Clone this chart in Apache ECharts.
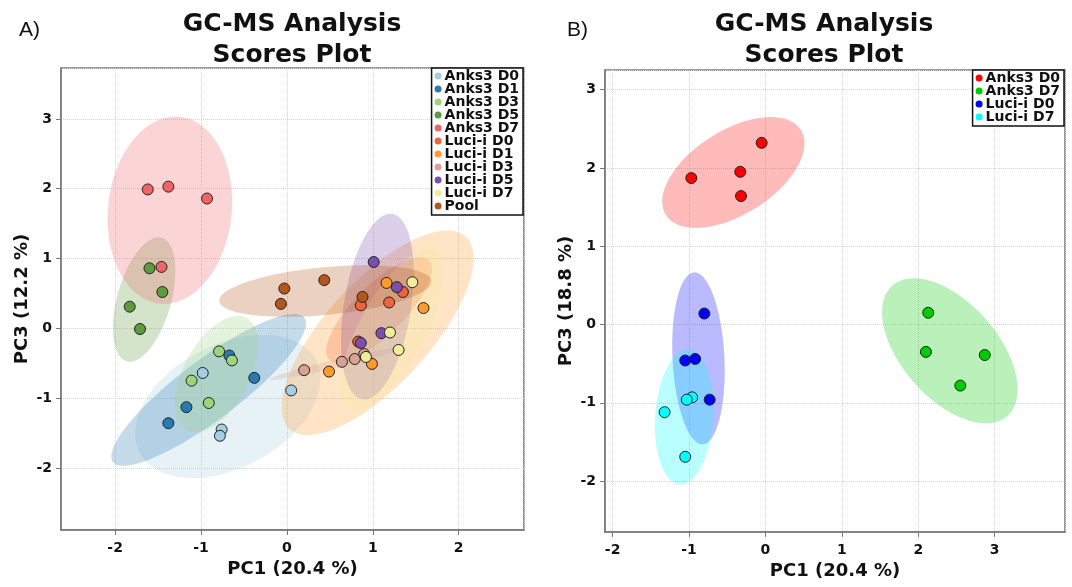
<!DOCTYPE html>
<html>
<head>
<meta charset="utf-8">
<script src="https://cdn.jsdelivr.net/npm/echarts@6/dist/echarts.min.js"></script>
<style>
  html, body { margin: 0; padding: 0; background: #fff; }
  #chart { width: 1072px; height: 587px; }
</style>
</head>
<body>
<div id="chart"></div>
<script>
// panel A groups
const groupsA = ['Anks3 D0', 'Anks3 D1', 'Anks3 D3', 'Anks3 D5', 'Anks3 D7',
  'Luci-i D0', 'Luci-i D1', 'Luci-i D3', 'Luci-i D5', 'Luci-i D7', 'Pool'];
const colorsA = ['#A6CEE3', '#2A7AB2', '#9AD57C', '#5E9B3C', '#F06468',
  '#F0643C', '#FF9B2B', '#D9A195', '#7A4FAE', '#EFEC9B', '#B5561D'];
const pc1A = [
  [-0.98, -0.76, -0.78, 0.05],
  [-0.67, -0.38, -1.17, -1.38],
  [-0.79, -0.64, -1.11, -0.91],
  [-1.60, -1.45, -1.83, -1.71],
  [-1.62, -1.38, -0.93, -1.46],
  [1.35, 0.86, 1.19, 0.83],
  [1.16, 1.59, 0.99, 0.49],
  [0.20, 0.64, 0.79, 0.90],
  [1.01, 1.28, 1.10, 0.86],
  [1.46, 1.20, 1.30, 0.92],
  [-0.03, -0.07, 0.435, 0.88]
];
const pc3A = [
  [-0.64, -1.45, -1.54, -0.89],
  [-0.39, -0.71, -1.13, -1.36],
  [-0.33, -0.46, -0.75, -1.07],
  [0.86, 0.52, 0.31, -0.01],
  [1.99, 2.03, 1.86, 0.88],
  [0.52, 0.33, 0.37, -0.19],
  [0.65, 0.29, -0.51, -0.62],
  [-0.60, -0.48, -0.44, -0.37],
  [0.95, 0.59, -0.07, -0.21],
  [0.66, -0.06, -0.31, -0.41],
  [0.57, 0.35, 0.69, 0.45]
];
// confidence ellipses: centre x, centre y, semi-axis u (x,y), semi-axis v (x,y)
const ellipsesA = [
  [-0.690, -1.118, 1.024, 0.668, 0.338, -0.779],
  [-0.911, -0.883, 1.114, 1.033, 0.210, -0.341],
  [-0.818, -0.655, 0.348, 0.805, 0.338, -0.221],
  [-1.662, 0.413, 0.203, 0.886, 0.302, -0.104],
  [-1.363, 1.692, 0.116, 1.339, 0.716, -0.094],
  [1.073, 0.264, 0.580, 0.712, 0.205, -0.252],
  [1.056, -0.064, 1.024, 1.379, 0.446, -0.499],
  [0.574, -0.506, 0.777, 0.228, 0.011, -0.056],
  [1.053, 0.311, 0.174, 1.329, 0.386, -0.077],
  [1.224, -0.021, 0.502, 1.140, 0.336, -0.224],
  [0.447, 0.534, 1.235, 0.144, 0.026, -0.340]
];

// panel B groups
const groupsB = ['Anks3 D0', 'Anks3 D7', 'Luci-i D0', 'Luci-i D7'];
const colorsB = ['#FF0000', '#00CC00', '#0000FF', '#00FFFF'];
const pc1B = [
  [-0.05, -0.97, -0.33, -0.32],
  [2.13, 2.10, 2.87, 2.55],
  [-0.80, -1.05, -0.92, -0.73],
  [-0.96, -1.03, -1.32, -1.05]
];
const pc3B = [
  [2.32, 1.87, 1.95, 1.64],
  [0.15, -0.35, -0.39, -0.78],
  [0.14, -0.46, -0.44, -0.96],
  [-0.93, -0.96, -1.12, -1.69]
];
const ellipsesB = [
  [-0.420, 1.941, 0.885, 0.542, 0.291, -0.455],
  [2.413, -0.336, 0.753, -0.833, 0.470, 0.406],
  [-0.877, -0.432, -0.056, 1.098, 0.339, 0.017],
  [-1.064, -1.181, 0.059, 0.862, 0.379, -0.024]
];

const font = 'DejaVu Sans';
const panelTag = ['A:', 'B:'];

function renderEllipse(params, api) {
  const cx = api.value(0), cy = api.value(1);
  const ux = api.value(2), uy = api.value(3), vx = api.value(4), vy = api.value(5);
  const pts = [];
  for (let k = 0; k < 90; k++) {
    const t = 2 * Math.PI * k / 90;
    pts.push(api.coord([cx + ux * Math.cos(t) + vx * Math.sin(t),
                        cy + uy * Math.cos(t) + vy * Math.sin(t)]));
  }
  return {
    type: 'polygon',
    shape: { points: pts },
    style: { fill: api.visual('color'), opacity: 0.27 }
  };
}

function makeSeries(groups, colors, xs, ys, ells, idx) {
  const out = [];
  groups.forEach(function (g, i) {
    out.push({
      type: 'custom', name: panelTag[idx] + g + ' ellipse',
      xAxisIndex: idx, yAxisIndex: idx,
      renderItem: renderEllipse,
      itemStyle: { color: colors[i] },
      data: [ells[i]],
      silent: true, z: 1
    });
  });
  groups.forEach(function (g, i) {
    out.push({
      type: 'scatter', name: panelTag[idx] + g,
      xAxisIndex: idx, yAxisIndex: idx,
      symbolSize: 11,
      itemStyle: { color: colors[i], borderColor: '#222', borderWidth: 1, opacity: 1 },
      data: xs[i].map(function (v, j) { return [v, ys[i][j]]; }),
      z: 3
    });
  });
  return out;
}

function xAx(idx, min, max) {
  return {
    type: 'value', gridIndex: idx, min: min, max: max,
    name: 'PC1 (20.4 %)', nameLocation: 'middle', nameGap: 27,
    nameTextStyle: { fontFamily: font, fontWeight: 'bold', fontSize: 18, color: '#111' },
    axisLine: { show: true, onZero: false, lineStyle: { color: '#777', width: 1.5 } },
    axisTick: { show: true, length: 5, lineStyle: { color: '#777' } },
    axisLabel: {
      margin: 11, fontFamily: font, fontWeight: 'bold', fontSize: 14, color: '#111',
      showMinLabel: false, showMaxLabel: false,
      formatter: function (v) { return Number.isInteger(v) ? String(v) : ''; }
    },
    splitLine: { show: true, lineStyle: { color: '#d4d4d4', type: 'dotted' } }
  };
}
function yAx(idx, min, max, name) {
  return {
    type: 'value', gridIndex: idx, min: min, max: max,
    name: name, nameLocation: 'middle', nameGap: 30,
    nameTextStyle: { fontFamily: font, fontWeight: 'bold', fontSize: 18, color: '#111' },
    axisLine: { show: true, onZero: false, lineStyle: { color: '#777', width: 1.5 } },
    axisTick: { show: true, length: 5, lineStyle: { color: '#777' } },
    axisLabel: {
      margin: 9, fontFamily: font, fontWeight: 'bold', fontSize: 14, color: '#111',
      showMinLabel: false, showMaxLabel: false,
      formatter: function (v) { return Number.isInteger(v) ? String(v) : ''; }
    },
    splitLine: { show: true, lineStyle: { color: '#d4d4d4', type: 'dotted' } }
  };
}

function legendFor(idx, names, right, top) {
  return {
    data: names.map(function (n) { return panelTag[idx] + n; }),
    formatter: function (n) { return n.slice(2); },
    orient: 'vertical', right: right, top: top,
    icon: 'circle', itemWidth: 7, itemHeight: 7, itemGap: -1,
    itemStyle: { borderWidth: 0 },
    padding: [1, 4, 2, 3],
    backgroundColor: '#fff', borderColor: '#111', borderWidth: 1.5,
    textStyle: { fontFamily: font, fontWeight: 'bold', fontSize: 14, color: '#111', lineHeight: 12, padding: [0, 0, 0, -2] },
    selectedMode: false
  };
}

const chart = echarts.init(document.getElementById('chart'));
chart.setOption({
  animation: false,
  title: [
    { text: 'A)', left: 14, top: 15, textStyle: { fontFamily: 'Liberation Sans', fontWeight: 'normal', fontSize: 21, color: '#111' } },
    { text: 'B)', left: 562, top: 15, textStyle: { fontFamily: 'Liberation Sans', fontWeight: 'normal', fontSize: 21, color: '#111' } },
    { text: 'GC-MS Analysis\nScores Plot', left: 287, top: 4, textAlign: 'center',
      textStyle: { fontFamily: font, fontWeight: 'bold', fontSize: 25, lineHeight: 31, color: '#111' } },
    { text: 'GC-MS Analysis\nScores Plot', left: 819, top: 4, textAlign: 'center',
      textStyle: { fontFamily: font, fontWeight: 'bold', fontSize: 25, lineHeight: 31, color: '#111' } }
  ],
  grid: [
    { left: 61, top: 68, width: 463, height: 462, show: true, borderColor: '#777', borderWidth: 1.5 },
    { left: 605, top: 70, width: 460, height: 462, show: true, borderColor: '#777', borderWidth: 1.5 }
  ],
  xAxis: [xAx(0, -2.63, 2.76), xAx(1, -2.1, 3.92)],
  yAxis: [yAx(0, -2.89, 3.73, 'PC3 (12.2 %)'), yAx(1, -2.65, 3.25, 'PC3 (18.8 %)')],
  legend: [legendFor(0, groupsA, 1072 - 523, 68), legendFor(1, groupsB, 1072 - 1064, 70)],
  series: makeSeries(groupsA, colorsA, pc1A, pc3A, ellipsesA, 0)
    .concat(makeSeries(groupsB, colorsB, pc1B, pc3B, ellipsesB, 1))
});
</script>
</body>
</html>
